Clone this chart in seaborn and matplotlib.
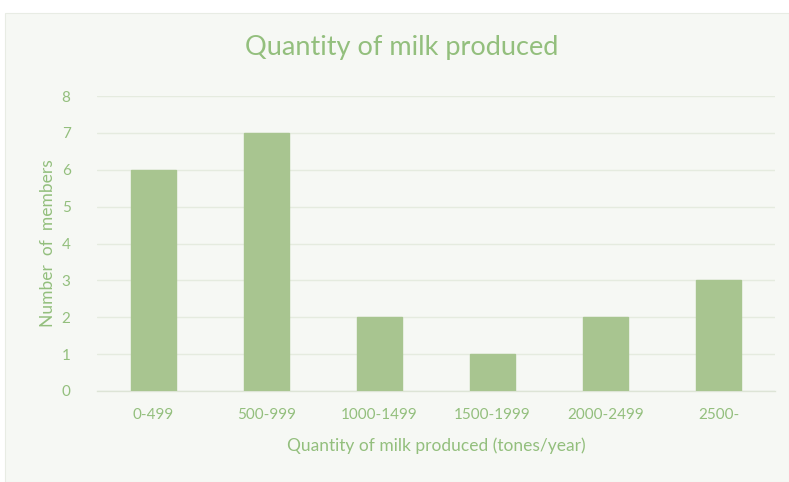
import matplotlib
matplotlib.use("Agg")
import matplotlib.pyplot as plt
import seaborn as sns
import pandas as pd
from matplotlib.patches import Rectangle

categories = ["0-499", "500-999", "1000-1499", "1500-1999", "2000-2499", "2500-"]
members = [6, 7, 2, 1, 2, 3]
yticks = [0, 1, 2, 3, 4, 5, 6, 7, 8]

sns.set_theme(style="white")
plt.rcParams["font.family"] = ["Lato", "DejaVu Sans"]

txt = "#93bf7d"
bar_c = "#a8c590"
grid_c = "#e5ebdf"
panel_c = "#f6f8f4"

df = pd.DataFrame({"cat": categories, "n": members})

fig = plt.figure(figsize=(7.89, 4.82), dpi=100)
fig.patch.set_facecolor("white")
fig.patches.append(Rectangle((5/789, 0), 1 - 5/789, 1 - 13/482, transform=fig.transFigure,
                             facecolor=panel_c, edgecolor="#e8ece4", lw=0.8, zorder=-10))
ax = fig.add_axes([97/789, 1 - 391/482, (775 - 97)/789, (391 - 96)/482])
ax.set_facecolor(panel_c)

sns.barplot(data=df, x="cat", y="n", color=bar_c, width=0.4, saturation=1, ax=ax, zorder=3)
for p in ax.patches:
    p.set_edgecolor(bar_c)

ax.set_xlim(-0.5, 5.5)
ax.set_ylim(0, 8)
ax.set_yticks(yticks)
ax.yaxis.grid(True, color=grid_c, lw=1.0, zorder=0)
for s in ["top", "right", "left"]:
    ax.spines[s].set_visible(False)
ax.spines["bottom"].set_color("#dde4d6")
ax.spines["bottom"].set_linewidth(1.0)
ax.tick_params(axis="both", length=0, colors=txt, labelsize=11)
ax.tick_params(axis="y", pad=19)
ax.tick_params(axis="x", pad=12)

ax.set_xlabel("Quantity of milk produced (tones/year)", color=txt, fontsize=12.5, labelpad=11)
ax.set_ylabel("Number  of  members", color=txt, fontsize=12.5, labelpad=4)
fig.text(402/789, 1 - 48/482, "Quantity of milk produced", color=txt,
         fontsize=19.5, ha="center", va="center")

fig.savefig("out.png", dpi=100, facecolor="white")
